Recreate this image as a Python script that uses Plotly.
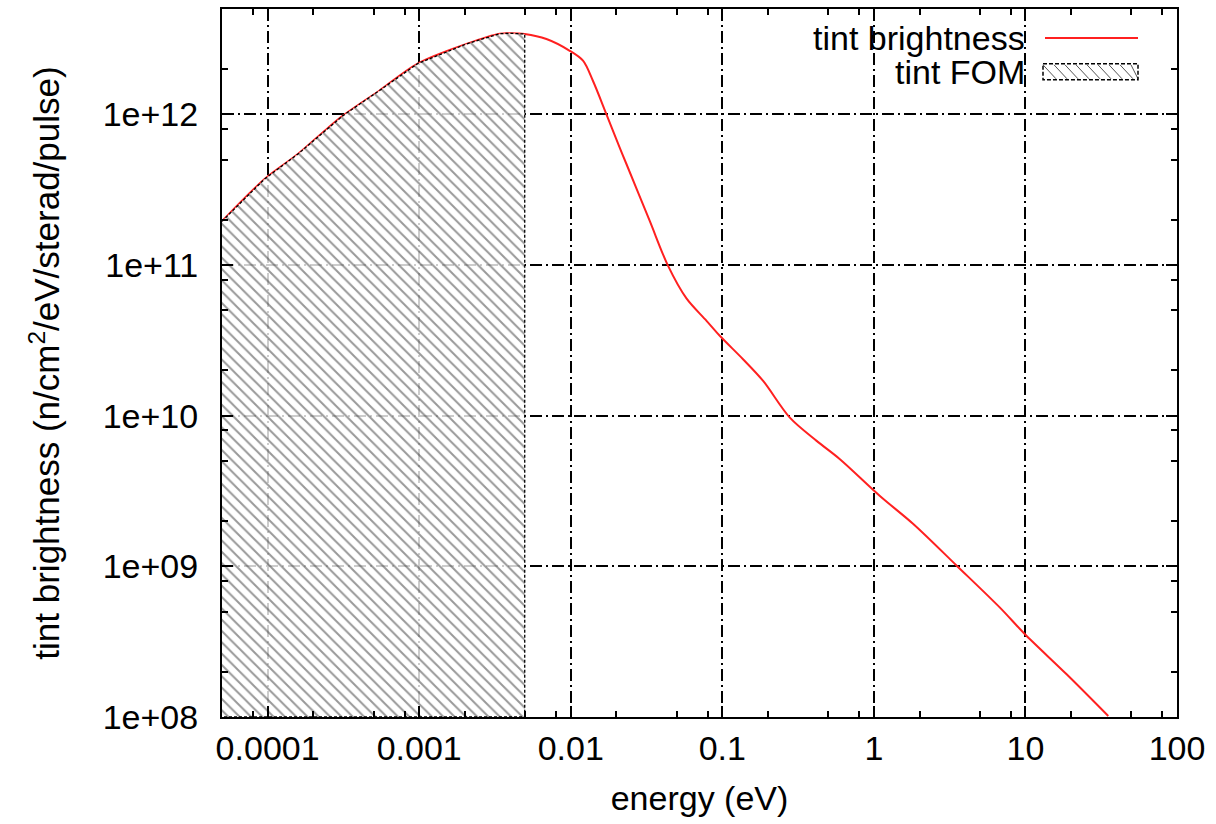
import numpy as np
import plotly.graph_objects as go

# ---- data ----
energy_eV = [5.0e-5, 9.55e-5, 1.585e-4, 2.38e-4, 3.14e-4, 5.48e-4, 9.77e-4, 2.05e-3, 3.4e-3,
             4.0e-3, 4.97e-3, 6.91e-3, 9.85e-3, 1.205e-2, 1.40e-2, 1.72e-2, 2.10e-2, 2.33e-2,
             3.32e-2, 4.38e-2, 5.8e-2, 7.87e-2, 9.62e-2, 0.137, 0.186, 0.279, 0.419, 0.597, 1.096,
             1.82, 3.52, 6.79, 9.93, 18.7, 35.2]
brightness = [1.95e11, 3.72e11, 5.45e11, 7.78e11, 9.8e11, 1.44e12, 2.17e12, 2.93e12, 3.43e12,
              3.45e12, 3.41e12, 3.16e12, 2.64e12, 2.27e12, 1.67e12, 1.0e12, 6.04e11, 4.68e11,
              1.96e11, 9.9e10, 6.0e10, 4.26e10, 3.39e10, 2.37e10, 1.70e10, 9.7e9, 6.8e9, 5.14e9,
              2.93e9, 1.91e9, 1.01e9, 5.32e8, 3.54e8, 1.92e8, 1.015e8]
fom_limit_eV = 4.97e-3          # right edge of the FOM (hatched) region
y_floor = 1e8                   # lower axis limit

x_tickvals = [1e-4, 1e-3, 1e-2, 1e-1, 1, 10, 100]
x_ticktext = ["0.0001", "0.001", "0.01", "0.1", "1", "10", "100"]
y_tickvals = [1e8, 1e9, 1e10, 1e11, 1e12]
y_ticktext = ["1e+08", "1e+09", "1e+10", "1e+11", "1e+12"]
minor_mult = [2, 5, 8]

e = np.array(energy_eV)
b = np.array(brightness)
mask = e <= fom_limit_eV
fom_x = list(e[mask]) + [e[mask][-1], e[mask][0]]
fom_y = list(b[mask]) + [y_floor, y_floor]

x_minor = [m * 10.0 ** k for k in range(-5, 2) for m in minor_mult]
y_minor = [m * 10.0 ** k for k in range(8, 13) for m in minor_mult]

FONT = "Liberation Sans, Arial, sans-serif"
FS = 34

fig = go.Figure()
fig.add_trace(go.Scatter(x=energy_eV, y=brightness, mode="lines",
                         line=dict(color="#ff2020", width=2, shape="spline", smoothing=0.9),
                         showlegend=False, name="tint brightness"))
fig.add_trace(go.Scatter(x=fom_x, y=fom_y, mode="lines", fill="toself",
                         fillcolor="rgba(0,0,0,0)",
                         fillpattern=dict(shape="\\", fgcolor="#333333",
                                          bgcolor="rgba(255,255,255,0.8)",
                                          size=8, solidity=0.25),
                         line=dict(color="black", width=1.3, dash="3px,2px"),
                         showlegend=False, name="tint FOM"))

grid = dict(showgrid=True, gridcolor="black", gridwidth=1.8, griddash="12px,4px,2px,4px")
axis_common = dict(showline=True, linecolor="black", linewidth=2, mirror="allticks",
                   ticks="inside", ticklen=11, tickwidth=1.5, tickcolor="black",
                   tickfont=dict(family=FONT, size=FS, color="black"), zeroline=False,
                   **grid)

fig.update_xaxes(type="log", range=[np.log10(5e-5), 2], tickmode="array",
                 tickvals=x_tickvals, ticktext=x_ticktext,
                 minor=dict(tickmode="array", tickvals=x_minor, ticks="inside",
                            ticklen=6, tickwidth=1.5, tickcolor="black", showgrid=False),
                 title=dict(text="energy (eV)", font=dict(family=FONT, size=FS, color="black"),
                            standoff=20),
                 **axis_common)
fig.update_yaxes(type="log", range=[8, np.log10(5e12)], tickmode="array",
                 tickvals=y_tickvals, ticktext=y_ticktext, ticklabelstandoff=15,
                 minor=dict(tickmode="array", tickvals=y_minor, ticks="inside",
                            ticklen=6, tickwidth=1.5, tickcolor="black", showgrid=False),
                 title=dict(text="tint brightness (n/cm<sup>2</sup>/eV/sterad/pulse)",
                            font=dict(family=FONT, size=35, color="black"), standoff=32),
                 **axis_common)

# ---- custom key (text left, sample right, like the reference) ----
L, T, W, H = 222, 7, 955, 710
def px(xp):
    return (xp - L) / W
def py(yp):
    return (T + H - yp) / H

shapes = [
    dict(type="rect", xref="paper", yref="paper", x0=px(795), x1=px(1152), y0=py(17), y1=py(84),
         fillcolor="white", line=dict(width=0), layer="between"),
    dict(type="line", xref="paper", yref="paper", x0=px(1045), x1=px(1138), y0=py(36), y1=py(36),
         line=dict(color="#ff2020", width=2), layer="above"),
]
for xs in range(1050, 1140, 11):
    shapes.append(dict(type="line", xref="paper", yref="paper",
                       x0=px(xs - 7), x1=px(min(xs + 6, 1138)), y0=py(63), y1=py(77),
                       line=dict(color="#555555", width=1), layer="above"))
shapes.append(dict(type="rect", xref="paper", yref="paper", x0=px(1043), x1=px(1138),
                   y0=py(62), y1=py(78), line=dict(color="black", width=1.5, dash="4px,2px"),
                   fillcolor="rgba(0,0,0,0)", layer="above"))

annotations = [
    dict(text="tint brightness", xref="paper", yref="paper", x=px(1027), y=py(36),
         xanchor="right", yanchor="middle", showarrow=False,
         font=dict(family=FONT, size=FS, color="black")),
    dict(text="tint FOM", xref="paper", yref="paper", x=px(1027), y=py(70),
         xanchor="right", yanchor="middle", showarrow=False,
         font=dict(family=FONT, size=FS, color="black")),
]

fig.update_layout(width=1216, height=824, margin=dict(l=L, r=1216 - L - W, t=T, b=824 - T - H),
                  paper_bgcolor="white", plot_bgcolor="white", showlegend=False,
                  shapes=shapes, annotations=annotations,
                  font=dict(family=FONT, size=FS, color="black"))

fig.write_html("out.html")
